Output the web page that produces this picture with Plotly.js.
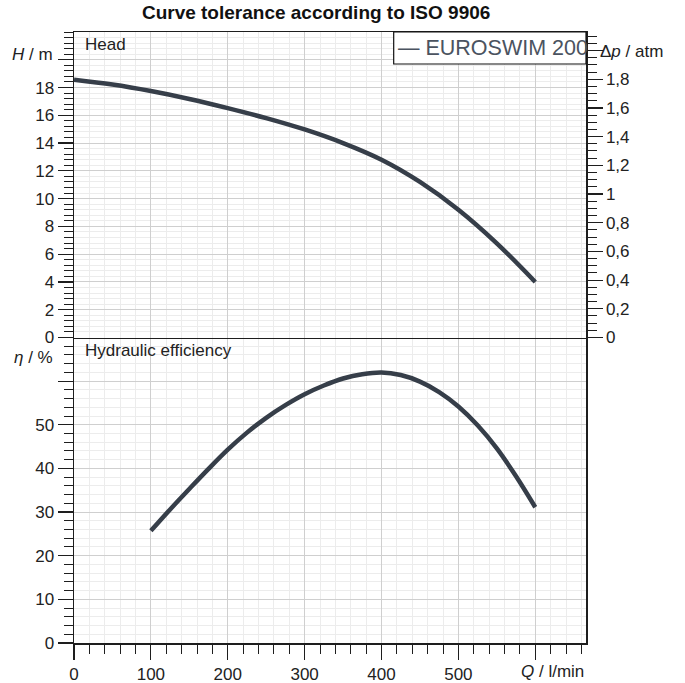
<!DOCTYPE html>
<html><head><meta charset="utf-8">
<script src="https://cdn.plot.ly/plotly-3.0.1.min.js"></script>
<style>html,body{margin:0;padding:0;background:#fff}</style>
</head><body><div id="chart" style="width:685px;height:683px"></div>
<script>
// ---- data ----
const flowQ = [0, 50, 100, 150, 200, 250, 300, 350, 400, 450, 500, 550, 600];
const headH = [18.57, 18.22, 17.75, 17.18, 16.52, 15.8, 14.98, 14.0, 12.8, 11.2, 9.2, 6.78, 4.0];
const effQ = [100, 125, 150, 175, 200, 225, 250, 275, 300, 325, 350, 375, 400, 425, 450, 475, 500, 525, 550, 575, 600];
const effEta = [25.7, 30.6, 35.3, 39.9, 44.3, 48.2, 51.6, 54.5, 57.0, 59.0, 60.6, 61.6, 62.0, 61.4, 59.9, 57.5, 54.2, 49.9, 44.6, 38.2, 31.1];
const xTicks = [0, 100, 200, 300, 400, 500, 600];
const xLabels = ['0', '100', '200', '300', '400', '500', ''];
const headTicks = [0, 2, 4, 6, 8, 10, 12, 14, 16, 18, 20];
const headLabels = ['0', '2', '4', '6', '8', '10', '12', '14', '16', '18', ''];
const dpTicks = [0, 0.2, 0.4, 0.6, 0.8, 1.0, 1.2, 1.4, 1.6, 1.8, 2.0];
const dpLabels = ['0', '0,2', '0,4', '0,6', '0,8', '1', '1,2', '1,4', '1,6', '1,8', ''];
const etaTicks = [0, 10, 20, 30, 40, 50, 60];
const etaLabels = ['0', '10', '20', '30', '40', '50', ''];
const seriesName = 'EUROSWIM 200';
const chartTitle = 'Curve tolerance according to ISO 9906';
const M_TO_ATM = 0.0967841;
const qRange = [0, 666], headRange = [0, 22], etaRange = [0, 70];

// ---- style ----
const FONT = 'Liberation Sans, Arial, sans-serif';
const LINE = '#363e49';
const AX = '#1e1e1e';
const GRID = '#cfcfcf', MGRID = '#ececec';

const traces = [
  {x: flowQ, y: headH, xaxis: 'x2', yaxis: 'y', mode: 'lines', name: seriesName,
   line: {color: LINE, width: 4.5, shape: 'spline', smoothing: 1.0}, showlegend: false, hoverinfo: 'skip'},
  {x: flowQ, y: headH.map(h => h * M_TO_ATM), xaxis: 'x2', yaxis: 'y3', mode: 'lines',
   line: {color: 'rgba(0,0,0,0)', width: 0}, showlegend: false, hoverinfo: 'skip'},
  {x: effQ, y: effEta, xaxis: 'x', yaxis: 'y2', mode: 'lines', name: seriesName,
   line: {color: LINE, width: 4.5, shape: 'spline', smoothing: 1.0}, showlegend: false, hoverinfo: 'skip'}
];

const tf = {family: FONT, size: 17, color: '#222'};
function xAx(extra) {
  return Object.assign({
    range: qRange, tickmode: 'array', tickvals: xTicks, ticktext: xLabels,
    showgrid: true, gridcolor: GRID, gridwidth: 1, zeroline: false,
    linecolor: AX, linewidth: 1.5, tickfont: tf, fixedrange: true
  }, extra);
}
const layout = {
  width: 685, height: 683,
  margin: {l: 74, r: 99, t: 32, b: 40, pad: 0},
  paper_bgcolor: '#fff', plot_bgcolor: '#fff',
  font: {family: FONT, size: 17, color: '#222'},
  title: {text: '<b>' + chartTitle + '</b>', font: {family: FONT, size: 19, color: '#111'},
          x: (316 - 74) / 511.7, xref: 'paper', xanchor: 'center', y: 1 - 12 / 683, yref: 'container', yanchor: 'middle'},
  xaxis: xAx({anchor: 'y2', domain: [0, 1], showline: true, mirror: false,
    ticks: 'outside', ticklen: 15, tickcolor: AX, tickwidth: 1.2,
    minor: {tickmode: 'linear', tick0: 0, dtick: 20, ticks: 'outside', ticklen: 9, tickcolor: AX, tickwidth: 1,
            showgrid: true, gridcolor: MGRID, gridwidth: 1}}),
  xaxis2: xAx({anchor: 'y', matches: 'x', domain: [0, 1], showline: true, mirror: true, ticks: '', showticklabels: false,
    minor: {tickmode: 'linear', tick0: 0, dtick: 20, ticks: '', showgrid: true, gridcolor: MGRID, gridwidth: 1}}),
  yaxis: {anchor: 'x2', domain: [0.5, 1], range: headRange, tickmode: 'array', tickvals: headTicks, ticktext: headLabels,
    ticks: 'outside', ticklen: 15, tickcolor: AX, tickwidth: 1.2, tickfont: tf,
    showgrid: true, gridcolor: GRID, zeroline: false, showline: true, mirror: false, linecolor: AX, linewidth: 1.5,
    minor: {tickmode: 'linear', tick0: 0, dtick: 0.4, ticks: 'outside', ticklen: 9, tickcolor: AX, tickwidth: 1,
            showgrid: true, gridcolor: MGRID}, fixedrange: true},
  yaxis3: {overlaying: 'y', anchor: 'x2', side: 'right', range: headRange.map(h => h * M_TO_ATM),
    tickmode: 'array', tickvals: dpTicks, ticktext: dpLabels,
    ticks: 'outside', ticklen: 15, tickcolor: AX, tickwidth: 1.2, tickfont: tf,
    showgrid: false, zeroline: false, showline: true, linecolor: AX, linewidth: 1.5,
    minor: {tickmode: 'linear', tick0: 0, dtick: 0.05, ticks: 'outside', ticklen: 9, tickcolor: AX, tickwidth: 1, showgrid: false},
    fixedrange: true},
  yaxis2: {anchor: 'x', domain: [0, 0.5], range: etaRange, tickmode: 'array', tickvals: etaTicks, ticktext: etaLabels,
    ticks: 'outside', ticklen: 15, tickcolor: AX, tickwidth: 1.2, tickfont: tf,
    showgrid: true, gridcolor: GRID, zeroline: false, showline: true, mirror: true, linecolor: AX, linewidth: 1.5,
    minor: {tickmode: 'linear', tick0: 0, dtick: 2, ticks: 'outside', ticklen: 9, tickcolor: AX, tickwidth: 1,
            showgrid: true, gridcolor: MGRID}, fixedrange: true},
  shapes: [
    {type: 'rect', xref: 'paper', yref: 'paper', x0: 0.6244, x1: 1, y0: 0.9476, y1: 1,
     fillcolor: '#fff', line: {color: '#111', width: 1.2}, layer: 'above'}
  ],
  annotations: [
    {text: '— ' + seriesName, xref: 'paper', yref: 'paper', x: 1, y: 0.9738, xanchor: 'right', yanchor: 'middle',
     xshift: 4, showarrow: false, font: {family: FONT, size: 21.5, color: '#4b5360'}},
    {text: 'Head', xref: 'paper', yref: 'paper', x: 0, y: (643.3 - 45) / 611, xanchor: 'left', yanchor: 'middle',
     xshift: 9, showarrow: false, font: {family: FONT, size: 17, color: '#222'}},
    {text: 'Hydraulic efficiency', xref: 'paper', yref: 'paper', x: 0, y: (643.3 - 351) / 611, xanchor: 'left', yanchor: 'middle',
     xshift: 9, showarrow: false, font: {family: FONT, size: 17, color: '#222'}},
    {text: '<i>H</i> / m', xref: 'paper', yref: 'paper', x: 0, y: (643.3 - 55) / 611, xanchor: 'right', yanchor: 'middle',
     xshift: -19, showarrow: false, font: {family: FONT, size: 17, color: '#222'}},
    {text: '<i>η</i> / %', xref: 'paper', yref: 'paper', x: 0, y: (643.3 - 358) / 611, xanchor: 'right', yanchor: 'middle',
     xshift: -19, showarrow: false, font: {family: FONT, size: 17, color: '#222'}},
    {text: 'Δ<i>p</i> / atm', xref: 'paper', yref: 'paper', x: 1, y: (643.3 - 52) / 611, xanchor: 'left', yanchor: 'middle',
     xshift: 12, showarrow: false, font: {family: FONT, size: 17, color: '#222'}},
    {text: '<i>Q</i> / l/min', xref: 'paper', yref: 'paper', x: 1, y: 0, xanchor: 'right', yanchor: 'middle',
     yshift: -28, showarrow: false, font: {family: FONT, size: 17, color: '#222'}}
  ]
};
Plotly.newPlot('chart', traces, layout, {staticPlot: true, displayModeBar: false});
</script></body></html>
